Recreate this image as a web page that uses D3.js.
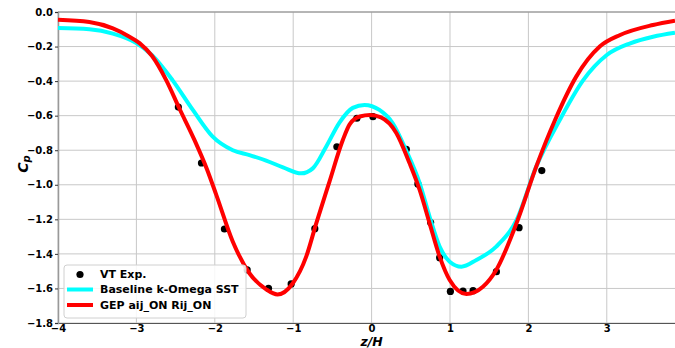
<!DOCTYPE html>
<html>
<head>
<meta charset="utf-8">
<script src="https://cdn.jsdelivr.net/npm/d3@7"></script>
<style>
  body { margin: 0; background: #fff; }
  svg { display: block; font-family: "DejaVu Sans", sans-serif; }
</style>
</head>
<body>
<div id="chart"></div>
<script>
// Chart size and plot area
const w = 675;
const h = 348;
const margin = { left: 58, right: 0, top: 12, bottom: 25 };

// Experimental points (z/H, Cp)
const expZ  = [-2.465, -2.17, -1.877, -1.587, -1.315, -1.026, -0.724, -0.443, -0.188, 0.017, 0.443, 0.59, 0.753, 0.868, 1.005, 1.166, 1.294, 1.592, 1.881, 2.171];
const expCp = [-0.55, -0.874, -1.256, -1.493, -1.599, -1.574, -1.254, -0.78, -0.615, -0.606, -0.795, -0.995, -1.219, -1.422, -1.617, -1.615, -1.613, -1.503, -1.248, -0.918];

// Baseline k-Omega SST curve
const baseZ  = [-4, -3.6, -3.3, -3.0, -2.8, -2.54, -2.28, -2.03, -1.77, -1.558, -1.345, -1.13, -0.898, -0.75, -0.58, -0.41, -0.24, -0.09, 0.10, 0.27, 0.44, 0.613, 0.74, 0.868, 0.996, 1.146, 1.337, 1.59, 1.848, 2.10, 2.40, 2.70, 3.0, 3.30, 3.59, 3.87];
const baseCp = [-0.093, -0.1, -0.125, -0.18, -0.25, -0.394, -0.567, -0.72, -0.80, -0.828, -0.86, -0.899, -0.934, -0.905, -0.78, -0.64, -0.555, -0.538, -0.567, -0.644, -0.80, -0.99, -1.185, -1.358, -1.445, -1.474, -1.435, -1.358, -1.204, -0.895, -0.625, -0.394, -0.249, -0.181, -0.143, -0.12];

// GEP aij_ON Rij_ON curve
const gepZ  = [-4, -3.6, -3.3, -3.1, -2.96, -2.8, -2.62, -2.45, -2.26, -2.1, -1.98, -1.77, -1.558, -1.345, -1.2, -1.005, -0.834, -0.706, -0.536, -0.367, -0.28, -0.15, -0.02, 0.12, 0.315, 0.485, 0.613, 0.74, 0.868, 0.996, 1.209, 1.42, 1.59, 1.848, 2.10, 2.34, 2.61, 2.91, 3.17, 3.59, 3.87];
const gepCp = [-0.045, -0.058, -0.095, -0.14, -0.18, -0.255, -0.394, -0.56, -0.74, -0.91, -1.06, -1.33, -1.512, -1.605, -1.635, -1.57, -1.416, -1.223, -0.98, -0.741, -0.65, -0.605, -0.596, -0.61, -0.70, -0.876, -1.03, -1.223, -1.416, -1.551, -1.632, -1.59, -1.493, -1.223, -0.895, -0.625, -0.374, -0.2, -0.133, -0.075, -0.05];

const xTicks = [-4, -3, -2, -1, 0, 1, 2, 3];
const yTicks = [0, -0.2, -0.4, -0.6, -0.8, -1.0, -1.2, -1.4, -1.6, -1.8];

const svg = d3.select("#chart").append("svg")
  .attr("width", w)
  .attr("height", h);

const xScale = d3.scaleLinear()
  .domain([-4, 3.87])
  .range([margin.left, w - margin.right]);

const yScale = d3.scaleLinear()
  .domain([-1.8, 0])
  .range([h - margin.bottom, margin.top]);

// Grid
svg.append("g")
  .selectAll("line")
  .data(xTicks)
  .enter().append("line")
  .attr("x1", d => xScale(d)).attr("x2", d => xScale(d))
  .attr("y1", yScale(0)).attr("y2", yScale(-1.8))
  .attr("stroke", "#c8c8c8").attr("stroke-width", 1);

svg.append("g")
  .selectAll("line")
  .data(yTicks)
  .enter().append("line")
  .attr("x1", xScale(-4)).attr("x2", w)
  .attr("y1", d => yScale(d)).attr("y2", d => yScale(d))
  .attr("stroke", "#c8c8c8").attr("stroke-width", 1);

// Axes
const minus = s => s.replace("-", "\u2212");
const xAxis = d3.axisBottom(xScale).tickValues(xTicks).tickSize(0).tickPadding(2)
  .tickFormat(d => minus(d3.format("d")(d)));
const yAxis = d3.axisLeft(yScale).tickValues(yTicks).tickSize(3).tickPadding(2)
  .tickFormat(d => minus(d3.format(".1f")(d)));

const gx = svg.append("g")
  .attr("transform", `translate(0,${yScale(-1.8)})`)
  .call(xAxis);
const gy = svg.append("g")
  .attr("transform", `translate(${xScale(-4)},0)`)
  .call(yAxis);

[gx, gy].forEach(g => {
  g.select(".domain").attr("stroke", "#555");
  g.selectAll(".tick line").attr("stroke", "#333");
  g.selectAll("text")
    .attr("fill", "#000")
    .style("font-size", "10px")
    .style("font-weight", "bold")
    .style("font-family", "DejaVu Sans, sans-serif");
});
gy.select(".domain").attr("stroke", "#999").attr("stroke-width", 1.5);

// Top frame line
svg.append("line")
  .attr("x1", xScale(-4)).attr("x2", w)
  .attr("y1", yScale(0)).attr("y2", yScale(0))
  .attr("stroke", "#888");

// Experimental points
const expData = expZ.map((z, i) => ({ z: z, cp: expCp[i] }));
svg.append("g")
  .selectAll("circle")
  .data(expData)
  .enter().append("circle")
  .attr("cx", d => xScale(d.z))
  .attr("cy", d => yScale(d.cp))
  .attr("r", 3.6)
  .attr("fill", "#000");

const line = d3.line()
  .x(d => xScale(d[0]))
  .y(d => yScale(d[1]))
  .curve(d3.curveMonotoneX);

svg.append("path")
  .datum(baseZ.map((z, i) => [z, baseCp[i]]))
  .attr("d", line)
  .attr("fill", "none")
  .attr("stroke", "#00ffff")
  .attr("stroke-width", 4);

svg.append("path")
  .datum(gepZ.map((z, i) => [z, gepCp[i]]))
  .attr("d", line)
  .attr("fill", "none")
  .attr("stroke", "#ff0000")
  .attr("stroke-width", 4);

// Legend
const legend = svg.append("g");
legend.append("rect")
  .attr("x", 64).attr("y", 265)
  .attr("width", 182).attr("height", 53)
  .attr("rx", 3)
  .attr("fill", "rgba(255,255,255,0.85)")
  .attr("stroke", "#d0d0d0");

const legendItems = ["VT Exp.", "Baseline k-Omega SST", "GEP aij_ON Rij_ON"];
const legendY = [274.5, 289.5, 305];
legend.append("circle")
  .attr("cx", 80).attr("cy", legendY[0]).attr("r", 3.6).attr("fill", "#000");
legend.append("line")
  .attr("x1", 67).attr("x2", 93).attr("y1", legendY[1]).attr("y2", legendY[1])
  .attr("stroke", "#00ffff").attr("stroke-width", 4);
legend.append("line")
  .attr("x1", 67).attr("x2", 93).attr("y1", legendY[2]).attr("y2", legendY[2])
  .attr("stroke", "#ff0000").attr("stroke-width", 4);
legend.selectAll("text")
  .data(legendItems)
  .enter().append("text")
  .attr("x", 100)
  .attr("y", (d, i) => legendY[i])
  .attr("dy", "0.35em")
  .style("font-size", "11px")
  .style("font-weight", "bold")
  .text(d => d);

// Axis titles
svg.append("text")
  .attr("x", xScale(0))
  .attr("y", 346)
  .attr("text-anchor", "middle")
  .style("font-size", "12.5px")
  .style("font-weight", "bold")
  .style("font-style", "italic")
  .text("z/H");

const yLabel = svg.append("text")
  .attr("transform", `translate(28,164) rotate(-90)`)
  .attr("text-anchor", "middle")
  .style("font-size", "14px")
  .style("font-weight", "bold")
  .style("font-style", "italic");
yLabel.append("tspan").text("C");
yLabel.append("tspan").attr("dy", 2).style("font-size", "10px").text("p");
</script>
</body>
</html>
